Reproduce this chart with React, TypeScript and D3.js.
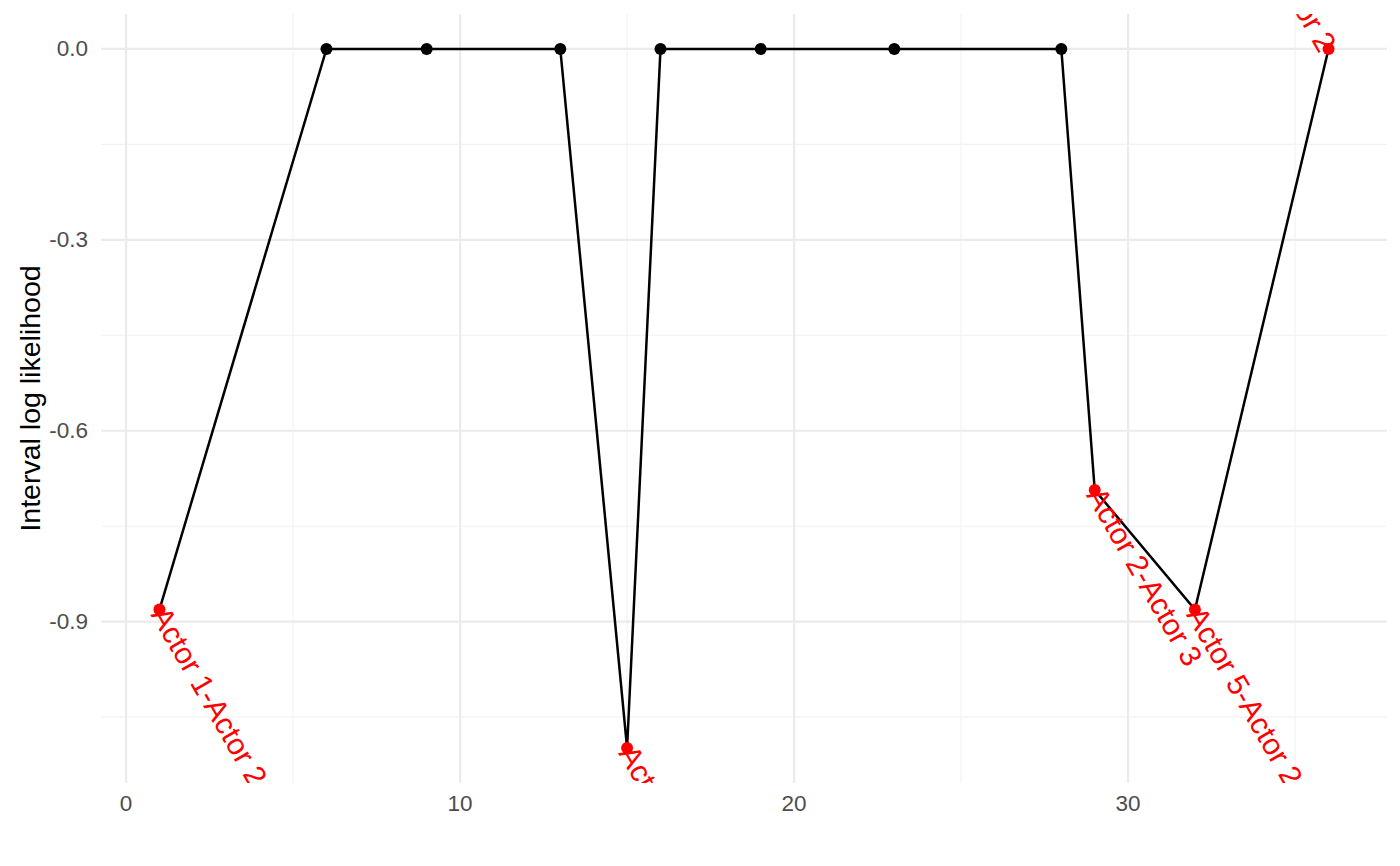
import React from "react";
import * as d3 from "d3";

const width = 1400,
  height = 866;

// event step and its interval log likelihood
const steps = [1, 6, 9, 13, 15, 16, 19, 23, 28, 29, 32, 36];
const logLik = [-0.881, 0, 0, 0, -1.0986, 0, 0, 0, 0, -0.6931, -0.881, 0];
// flagged intervals (empty = not flagged)
const pairLabels = [
  "Actor 1-Actor 2", "", "", "", "Actor 3-Actor 4", "", "", "", "",
  "Actor 2-Actor 3", "Actor 5-Actor 2", "Actor 1-Actor 2",
];
const xTicks = [0, 10, 20, 30];
const yTicks = [0, -0.3, -0.6, -0.9];

const panel = { left: 101, right: 1387, top: 14, bottom: 783 };

export default function App() {
  const data = steps.map((s, i) => ({ x: s, y: logLik[i], label: pairLabels[i] }));

  // ggplot style 5% expansion
  const xExt = d3.extent(steps) as [number, number];
  const yExt = d3.extent(logLik) as [number, number];
  const xPad = (xExt[1] - xExt[0]) * 0.05;
  const yPad = (yExt[1] - yExt[0]) * 0.05;

  const x = d3
    .scaleLinear()
    .domain([xExt[0] - xPad, xExt[1] + xPad])
    .range([panel.left, panel.right]);
  const y = d3
    .scaleLinear()
    .domain([yExt[0] - yPad, yExt[1] + yPad])
    .range([panel.bottom, panel.top]);

  const xMinor = [5, 15, 25, 35];
  const yMinor = [-0.15, -0.45, -0.75, -1.05];

  const line = d3
    .line<{ x: number; y: number }>()
    .x(d => x(d.x))
    .y(d => y(d.y));

  const flagged = data.filter(d => d.label !== "");
  const yMid = (y.range()[0] + y.range()[1]) / 2;

  const font = "'Liberation Sans', Arial, Helvetica, sans-serif";

  return (
    <svg
      width={width}
      height={height}
      style={{ position: "absolute", left: 0, top: 0, background: "#fff" }}
      fontFamily={font}
    >
      <defs>
        <clipPath id="panel-clip">
          <rect
            x={panel.left}
            y={panel.top}
            width={panel.right - panel.left}
            height={panel.bottom - panel.top}
          />
        </clipPath>
      </defs>

      {/* minor grid */}
      <g stroke="#F2F2F2" strokeWidth={1.1}>
        {xMinor.map(t => (
          <line key={"xm" + t} x1={x(t)} x2={x(t)} y1={panel.top} y2={panel.bottom} />
        ))}
        {yMinor.map(t => (
          <line key={"ym" + t} x1={panel.left} x2={panel.right} y1={y(t)} y2={y(t)} />
        ))}
      </g>
      {/* major grid */}
      <g stroke="#EBEBEB" strokeWidth={2.2}>
        {xTicks.map(t => (
          <line key={"xg" + t} x1={x(t)} x2={x(t)} y1={panel.top} y2={panel.bottom} />
        ))}
        {yTicks.map(t => (
          <line key={"yg" + t} x1={panel.left} x2={panel.right} y1={y(t)} y2={y(t)} />
        ))}
      </g>

      {/* axis labels */}
      <g fill="#4D4D4D" fontSize={22.5}>
        {xTicks.map(t => (
          <text key={"xt" + t} x={x(t)} y={803} textAnchor="middle" dominantBaseline="central">
            {t}
          </text>
        ))}
        {yTicks.map(t => (
          <text key={"yt" + t} x={88} y={y(t)} textAnchor="end" dominantBaseline="central">
            {t.toFixed(1)}
          </text>
        ))}
      </g>
      <text
        transform={`translate(30,${(panel.top + panel.bottom) / 2}) rotate(-90)`}
        textAnchor="middle"
        dominantBaseline="central"
        fontSize={28.5}
        fill="#000"
      >
        Interval log likelihood
      </text>

      <g clipPath="url(#panel-clip)">
        <path d={line(data) || ""} fill="none" stroke="#000" strokeWidth={2.5} />
        {data
          .filter(d => d.label === "")
          .map(d => (
            <circle key={"p" + d.x} cx={x(d.x)} cy={y(d.y)} r={6} fill="#000" />
          ))}
        {flagged.map(d => (
          <circle key={"r" + d.x} cx={x(d.x)} cy={y(d.y)} r={6} fill="#FF0000" />
        ))}
        {flagged.map(d => (
          <text
            key={"l" + d.x}
            transform={`translate(${x(d.x)},${y(d.y)}) rotate(60)`}
            textAnchor={y(d.y) < yMid ? "end" : "start"}
            dominantBaseline="central"
            fontSize={30}
            fill="#FF0000"
          >
            {d.label}
          </text>
        ))}
      </g>
    </svg>
  );
}
